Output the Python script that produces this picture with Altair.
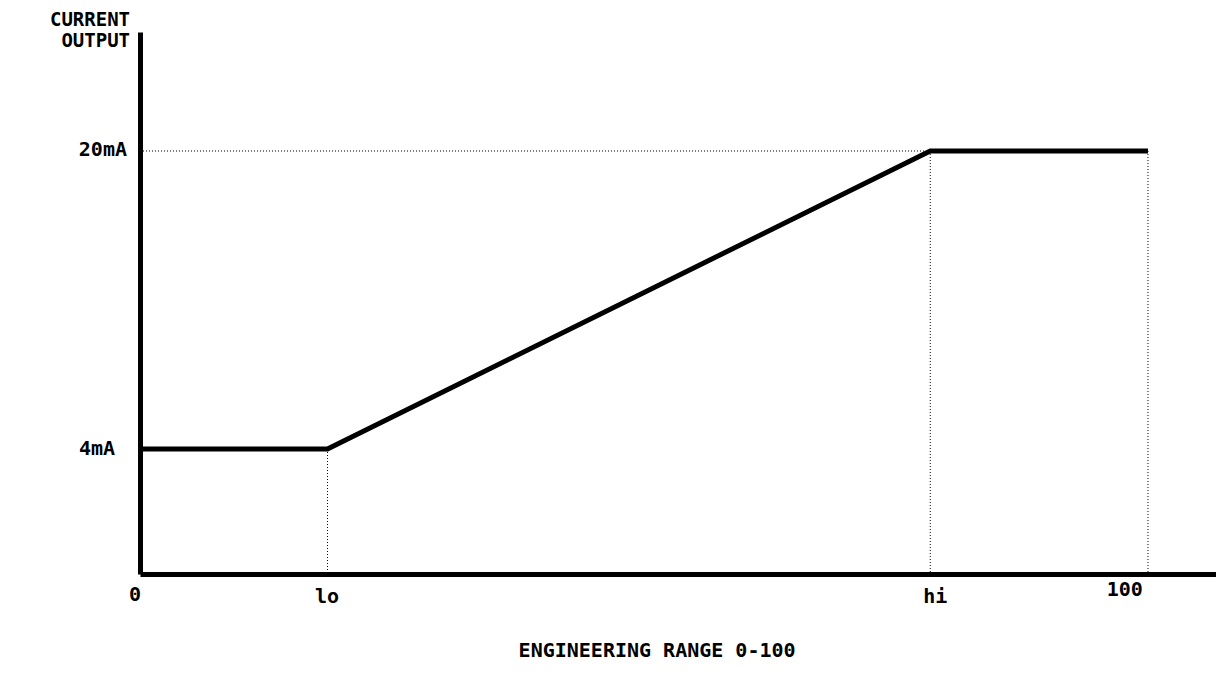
import altair as alt
import pandas as pd

# ---- data ----
LO = 18.6      # engineering value "lo"
HI = 78.4      # engineering value "hi"
curve_x = [0, LO, HI, 100]
curve_ma = [4, 4, 20, 20]

guide_x = [0, LO, HI, 100]
guide_x2 = [HI, LO, HI, 100]
guide_y = [20, 4, 20, 20]
guide_kind = ["h", "v", "v", "v"]

tick_labels = ["0", "lo", "hi", "100"]
y_labels = ["20mA", "4mA"]
y_title_lines = ["CURRENT", "OUTPUT"]
x_title = "ENGINEERING RANGE 0-100"

# ---- layout ----
XMIN, XMAX = 0, 106.75
YMIN, YMAX = -2.71, 26.39
FONT = "DejaVu Sans Mono"
FS = 20

curve = pd.DataFrame({"x": curve_x, "y": curve_ma})

g = pd.DataFrame({"x": guide_x, "x2": guide_x2, "y": guide_y, "kind": guide_kind})
g["y2"] = [20 if k == "h" else YMIN for k in guide_kind]

xs = alt.Scale(domain=[XMIN, XMAX], nice=False, zero=False)
ys = alt.Scale(domain=[YMIN, YMAX], nice=False, zero=False)

base_axis_x = alt.Axis(labels=False, ticks=False, grid=False, title=None,
                       domainColor="black", domainWidth=5)
base_axis_y = alt.Axis(labels=False, ticks=False, grid=False, title=None,
                       domainColor="black", domainWidth=5)

guides = alt.Chart(g).mark_rule(color="black", strokeWidth=1, strokeDash=[1, 2]).encode(
    x=alt.X("x:Q", scale=xs, axis=base_axis_x),
    x2="x2:Q",
    y=alt.Y("y:Q", scale=ys, axis=base_axis_y),
    y2="y2:Q",
)

line = alt.Chart(curve).mark_line(color="black", strokeWidth=5, strokeJoin="miter").encode(
    x=alt.X("x:Q", scale=xs),
    y=alt.Y("y:Q", scale=ys),
)

# label positions (layout, in data units)
tick_df = pd.DataFrame({"t": tick_labels,
                        "x": [-0.5, 18.55, 78.9, 97.7],
                        "y": [-3.84, -3.95, -3.95, -3.57]})
ticks = alt.Chart(tick_df).mark_text(font=FONT, fontSize=FS, fontWeight="bold",
                                     color="black", align="center", baseline="middle").encode(
    x=alt.X("x:Q", scale=xs), y=alt.Y("y:Q", scale=ys), text="t:N")

ylab_df = pd.DataFrame({"t": y_labels, "x": [-1.29, -2.48], "y": [20.05, 4.0]})
ylabs = alt.Chart(ylab_df).mark_text(font=FONT, fontSize=FS, fontWeight="bold",
                                     color="black", align="right", baseline="middle").encode(
    x=alt.X("x:Q", scale=xs), y=alt.Y("y:Q", scale=ys), text="t:N")

ytitle_df = pd.DataFrame({"t": y_title_lines, "x": [-0.99, -0.99], "y": [27.03, 25.93]})
ytitle = alt.Chart(ytitle_df).mark_text(font=FONT, fontSize=19, fontWeight="bold",
                                        color="black", align="right", baseline="middle").encode(
    x=alt.X("x:Q", scale=xs), y=alt.Y("y:Q", scale=ys), text="t:N")

xtitle_df = pd.DataFrame({"t": [x_title], "x": [51.3], "y": [-6.85]})
xtitle = alt.Chart(xtitle_df).mark_text(font=FONT, fontSize=FS, fontWeight="bold",
                                        color="black", align="center", baseline="middle").encode(
    x=alt.X("x:Q", scale=xs), y=alt.Y("y:Q", scale=ys), text="t:N")

chart = alt.layer(guides, line, ticks, ylabs, ytitle, xtitle).properties(
    width=1076, height=542,
    autosize=alt.AutoSizeParams(type="none"),
    padding={"left": 132, "top": 24, "right": 0, "bottom": 90},
    background="white",
).configure_view(stroke=None)

chart.save("out.html", embed_options={"renderer": "svg", "actions": False})
